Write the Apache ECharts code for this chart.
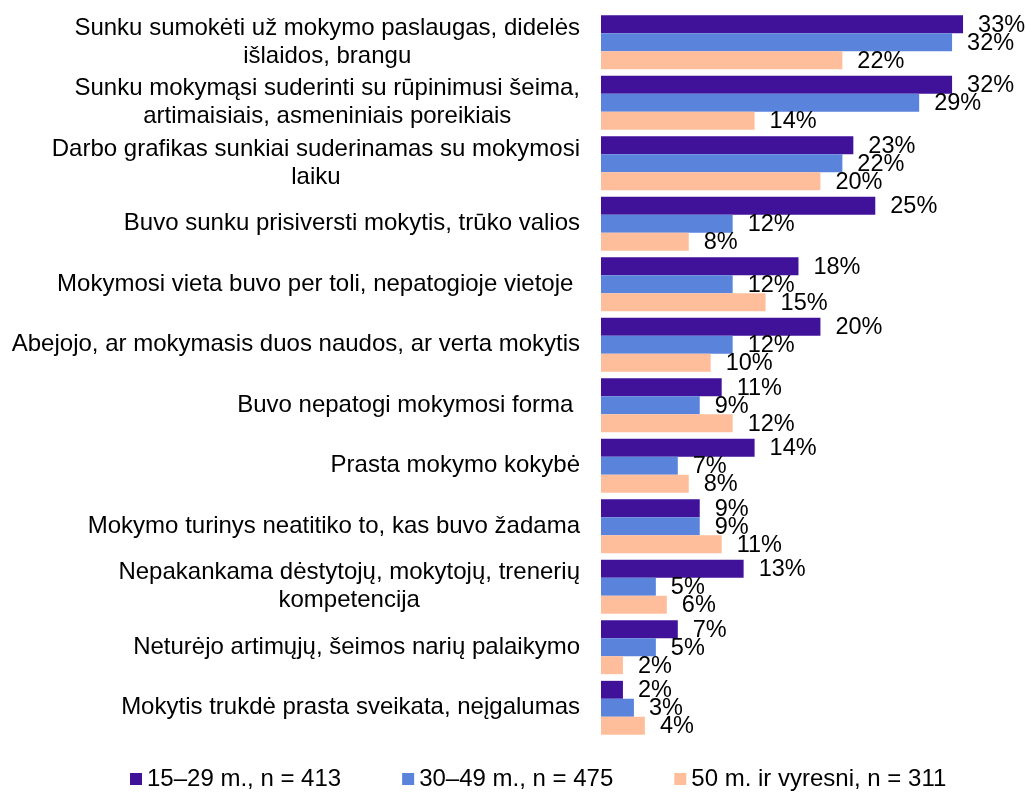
<!DOCTYPE html>
<html>
<head>
<meta charset="utf-8">
<script src="https://cdn.jsdelivr.net/npm/echarts@6/dist/echarts.min.js"></script>
<style>
    html, body { margin: 0; padding: 0; background: #fff; }
    #chart { width: 1026px; height: 792px; }
</style>
</head>
<body>
<div id="chart"></div>
<script>
// Data
// ------------------------------

var categories = [
    'Sunku sumokėti už mokymo paslaugas, didelės\nišlaidos, brangu',
    'Sunku mokymąsi suderinti su rūpinimusi šeima,\nartimaisiais, asmeniniais poreikiais',
    'Darbo grafikas sunkiai suderinamas su mokymosi\nlaiku',
    'Buvo sunku prisiversti mokytis, trūko valios',
    'Mokymosi vieta buvo per toli, nepatogioje vietoje ',
    'Abejojo, ar mokymasis duos naudos, ar verta mokytis',
    'Buvo nepatogi mokymosi forma ',
    'Prasta mokymo kokybė',
    'Mokymo turinys neatitiko to, kas buvo žadama',
    'Nepakankama dėstytojų, mokytojų, trenerių\nkompetencija',
    'Neturėjo artimųjų, šeimos narių palaikymo',
    'Mokytis trukdė prasta sveikata, neįgalumas'
];

var seriesNames = ['15–29 m., n = 413', '30–49 m., n = 475', '50 m. ir vyresni, n = 311'];

var age15to29 = [33, 32, 23, 25, 18, 20, 11, 14, 9, 13, 7, 2];
var age30to49 = [32, 29, 22, 12, 12, 12, 9, 7, 9, 5, 5, 3];
var age50plus = [22, 14, 20, 8, 15, 10, 12, 8, 11, 6, 2, 4];


// Chart
// ------------------------------

var EchartsBarsReasons = function() {

    var _barsReasons = function() {
        if (typeof echarts == 'undefined') {
            console.warn('Warning - echarts.min.js is not loaded.');
            return;
        }

        var bars_element = document.getElementById('chart');
        if (!bars_element) return;

        var bars = echarts.init(bars_element);

        var fontFamily = '"Liberation Sans", Arial, sans-serif';

        var makeSeries = function(name, data) {
            return {
                name: name,
                type: 'bar',
                data: data,
                barGap: '0%',
                barCategoryGap: '11%',
                label: {
                    show: true,
                    position: 'right',
                    distance: 15,
                    offset: [0, 1],
                    formatter: '{c}%',
                    color: '#000',
                    fontSize: 23.5,
                    fontFamily: fontFamily
                }
            };
        };

        bars.setOption({

            color: ['#40129a', '#5a83dc', '#ffbe9b'],

            textStyle: {
                fontFamily: fontFamily
            },

            animation: false,

            grid: {
                left: 601,
                top: 12,
                width: 384,
                height: 726,
                containLabel: false
            },

            legend: {
                top: 767,
                left: 130,
                padding: 0,
                itemWidth: 12,
                itemHeight: 12,
                itemGap: 61,
                icon: 'rect',
                data: seriesNames,
                textStyle: {
                    fontSize: 24,
                    color: '#000',
                    fontFamily: fontFamily
                }
            },

            xAxis: [{
                type: 'value',
                min: 0,
                max: 35,
                show: false
            }],

            yAxis: [{
                type: 'category',
                inverse: true,
                data: categories,
                axisLine: { show: false },
                axisTick: { show: false },
                axisLabel: {
                    margin: 21,
                    color: '#000',
                    fontSize: 24,
                    lineHeight: 28,
                    fontFamily: fontFamily,
                    formatter: function(value) {
                        return value.split('\n').map(function(line) {
                            return '{c|' + line + '}';
                        }).join('\n');
                    },
                    rich: {
                        c: {
                            align: 'center',
                            fontSize: 24,
                            lineHeight: 28,
                            color: '#000',
                            fontFamily: fontFamily
                        }
                    }
                }
            }],

            series: [
                makeSeries(seriesNames[0], age15to29),
                makeSeries(seriesNames[1], age30to49),
                makeSeries(seriesNames[2], age50plus)
            ]
        });
    };

    return {
        init: function() {
            _barsReasons();
        }
    }
}();

document.addEventListener('DOMContentLoaded', function() {
    EchartsBarsReasons.init();
});
</script>
</body>
</html>
